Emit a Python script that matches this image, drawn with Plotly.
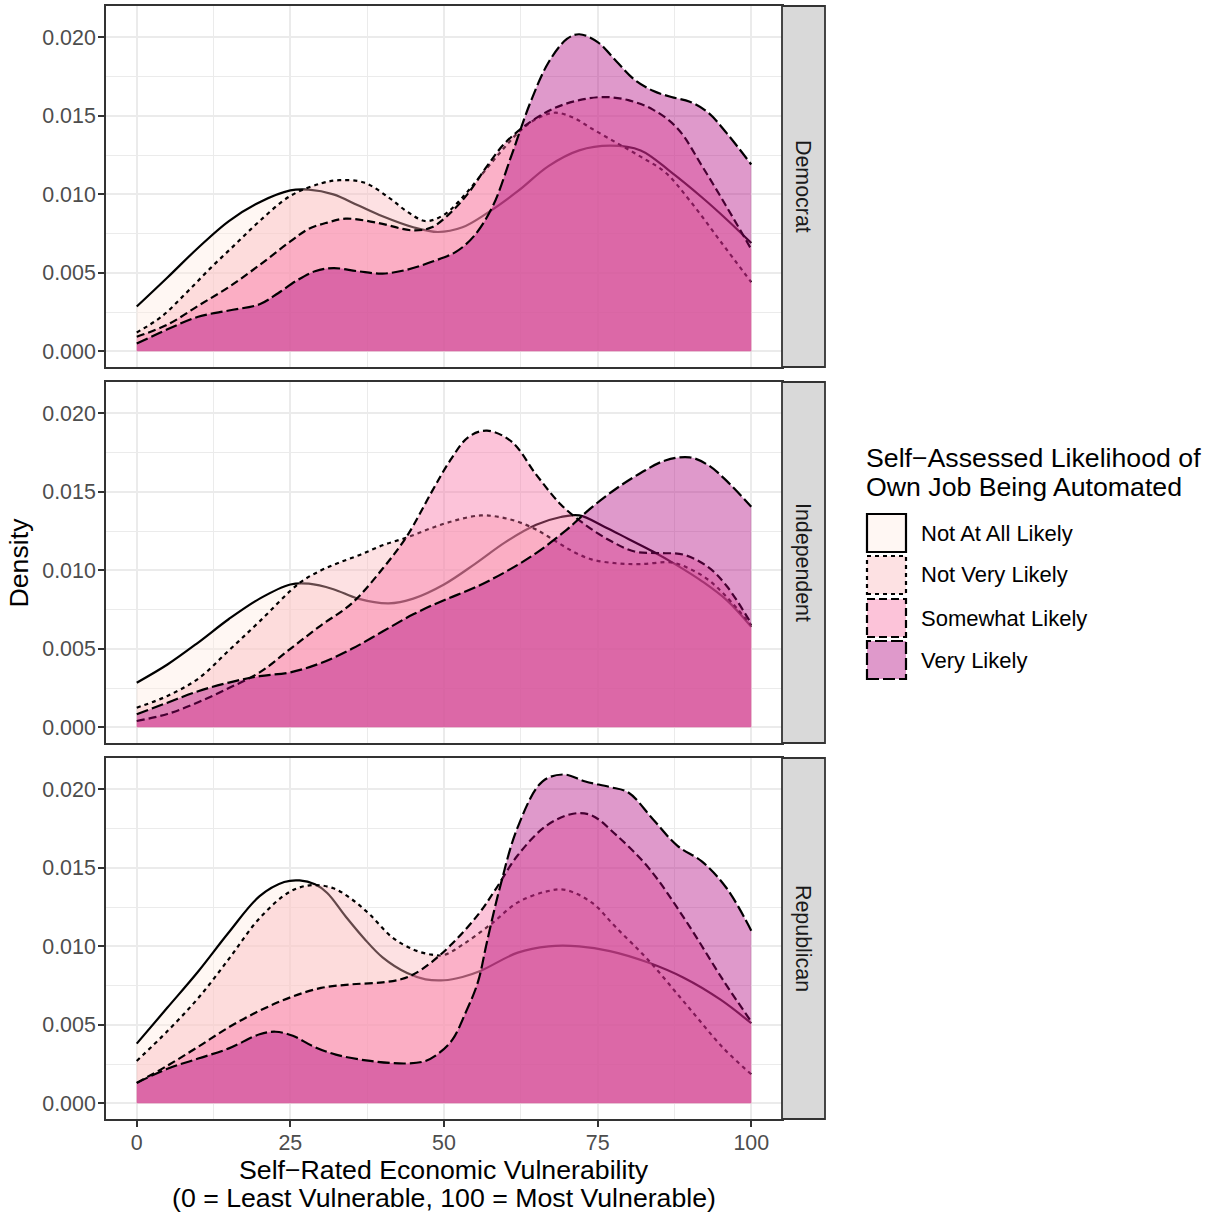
import plotly.graph_objects as go
from plotly.subplots import make_subplots

W, H = 1215, 1218
FONT = "Liberation Sans, Arial, Helvetica, sans-serif"

PARTIES = ["Democrat", "Independent", "Republican"]
LIKELIHOOD = ["Not At All Likely", "Not Very Likely", "Somewhat Likely", "Very Likely"]
FILL_COLORS = ["#FEEBE2", "#FBB4B9", "#F768A1", "#AE017E"]
LINE_DASH = ["solid", "4px,4px", "8px,4px", "12px,4px"]
X_TICKS = [0, 25, 50, 75, 100]
Y_TICKS = [0.0, 0.005, 0.010, 0.015, 0.020]

# ---------------- Democrat ----------------
DEM_NOT_AT_ALL_X = [0, 5, 10, 15, 20, 25, 28, 32, 36, 40, 45, 49, 53, 57, 62, 67, 72, 77, 82, 87, 92, 96, 100]
DEM_NOT_AT_ALL_Y = [0.00285, 0.0047, 0.0066, 0.0083, 0.0095, 0.01025, 0.0103, 0.0100, 0.0093, 0.0086, 0.0079,
                    0.0076, 0.0079, 0.0088, 0.0102, 0.0118, 0.0128, 0.0131, 0.0128, 0.0114, 0.0098, 0.0084, 0.0069]
DEM_NOT_VERY_X = [0, 4, 8, 12, 16, 20, 25, 30, 33, 37, 41, 44, 47, 50, 53, 56, 59, 62, 65, 68, 71, 74, 78, 82,
                  86, 90, 95, 100]
DEM_NOT_VERY_Y = [0.0012, 0.0022, 0.0037, 0.0053, 0.0068, 0.0083, 0.0099, 0.0107, 0.0109, 0.01075, 0.0098, 0.0089,
                  0.0083, 0.0087, 0.0098, 0.0112, 0.0126, 0.0139, 0.0148, 0.0152, 0.0149, 0.0142, 0.0133, 0.0124,
                  0.0114, 0.0096, 0.0070, 0.0044]
DEM_SOMEWHAT_X = [0, 5, 10, 15, 20, 25, 28, 31, 34, 39, 45, 48, 51, 54, 57, 60, 64, 68, 72, 76, 80, 84, 88, 92, 96,
                  100]
DEM_SOMEWHAT_Y = [0.00093, 0.0017, 0.0029, 0.0041, 0.0055, 0.0070, 0.0078, 0.0082, 0.00845, 0.0082, 0.0077, 0.0079,
                  0.0088, 0.0101, 0.0118, 0.0133, 0.0146, 0.0155, 0.0160, 0.0162, 0.0160, 0.0154, 0.0142, 0.0118,
                  0.0092, 0.0065]
DEM_VERY_X = [0, 5, 10, 15, 20, 23, 26, 29, 32, 36, 40, 44, 48, 52, 55, 58, 61, 64, 67, 70, 72, 75, 78, 81, 84, 87,
              90, 93, 96, 100]
DEM_VERY_Y = [0.00049, 0.0014, 0.0022, 0.0026, 0.0030, 0.0037, 0.0045, 0.0051, 0.0053, 0.0051, 0.00495, 0.0052,
              0.0057, 0.00635, 0.0074, 0.0093, 0.0125, 0.0158, 0.0184, 0.0199, 0.0202, 0.0197, 0.0185, 0.0173,
              0.0166, 0.0162, 0.0159, 0.0152, 0.0139, 0.0119]

# ---------------- Independent ----------------
IND_NOT_AT_ALL_X = [0, 5, 10, 15, 20, 25, 28, 32, 36, 41, 45, 50, 55, 60, 65, 69, 72, 76, 80, 84, 88, 92, 96, 100]
IND_NOT_AT_ALL_Y = [0.00284, 0.0040, 0.0054, 0.0069, 0.0082, 0.0091, 0.00915, 0.0088, 0.0082, 0.0079, 0.0082,
                    0.0091, 0.0104, 0.0118, 0.0129, 0.0134, 0.0135, 0.0128, 0.0120, 0.0112, 0.0103, 0.0093, 0.0081,
                    0.0064]
IND_NOT_VERY_X = [0, 5, 10, 15, 20, 26.5, 30, 33, 36.4, 40, 44, 48, 52, 56, 59, 62, 65, 68, 71, 74, 78, 82, 87, 90,
                  93, 96, 100]
IND_NOT_VERY_Y = [0.00125, 0.0020, 0.0031, 0.0049, 0.00675, 0.0092, 0.0100, 0.0105, 0.0110, 0.0116, 0.0121, 0.0127,
                  0.0132, 0.0135, 0.0134, 0.0131, 0.0126, 0.0119, 0.0112, 0.0107, 0.01045, 0.0104, 0.0105, 0.0101,
                  0.0094, 0.0083, 0.0065]
IND_SOMEWHAT_X = [0, 5, 10, 15, 20, 25, 30, 35, 40, 44, 48, 51, 54, 57, 61, 65, 69, 73, 77, 81, 85, 89, 93, 96, 100]
IND_SOMEWHAT_Y = [0.0004, 0.00085, 0.0016, 0.0025, 0.0035, 0.0050, 0.0065, 0.0079, 0.0101, 0.0122, 0.0150, 0.0170,
                  0.0185, 0.0189, 0.0182, 0.0161, 0.0142, 0.0129, 0.0119, 0.0112, 0.0111, 0.0110, 0.0102, 0.0090,
                  0.0066]
IND_VERY_X = [0, 5, 10, 15, 20, 25, 30, 35, 40, 45, 50, 55, 60, 65, 70, 74, 78, 82, 86, 90, 93, 96, 100]
IND_VERY_Y = [0.00083, 0.00157, 0.0023, 0.00285, 0.00326, 0.0035, 0.0041, 0.0050, 0.0061, 0.0072, 0.0081, 0.0089,
              0.0099, 0.0111, 0.0126, 0.0140, 0.0152, 0.0162, 0.0170, 0.0172, 0.0167, 0.0157, 0.01405]

# ---------------- Republican ----------------
REP_NOT_AT_ALL_X = [0, 5, 10, 15, 20, 24, 26.5, 29, 31, 34, 37, 40, 44, 47, 50, 53, 56, 62, 67, 72, 77, 83, 89, 95,
                    100]
REP_NOT_AT_ALL_Y = [0.0038, 0.0061, 0.0084, 0.0109, 0.0132, 0.0141, 0.0142, 0.01395, 0.0134, 0.0119, 0.0105,
                    0.0093, 0.0083, 0.0079, 0.00784, 0.00805, 0.00845, 0.0096, 0.0100, 0.0100, 0.0097, 0.0090, 0.0080,
                    0.0066, 0.0051]
REP_NOT_VERY_X = [0, 5, 10, 15, 20, 25, 28.5, 32, 35, 38, 41.5, 45, 48, 50, 53, 57.6, 62, 66.7, 69.7, 74, 78, 83.3,
                  89.4, 95.5, 100]
REP_NOT_VERY_Y = [0.0027, 0.0046, 0.0067, 0.0092, 0.0118, 0.0135, 0.0139, 0.0137, 0.0130, 0.0120, 0.0106, 0.0098,
                  0.00947, 0.00945, 0.0101, 0.0114, 0.0128, 0.0135, 0.0136, 0.0128, 0.0112, 0.0091, 0.0063, 0.0035,
                  0.00185]
REP_SOMEWHAT_X = [0, 5, 10, 15, 20, 25, 30, 35, 40, 43, 45, 48, 51.4, 55.7, 58.5, 62, 66.7, 71, 74, 78, 83.3, 89.4,
                  95.5, 100]
REP_SOMEWHAT_Y = [0.0013, 0.0024, 0.0036, 0.00485, 0.0059, 0.00675, 0.00735, 0.00758, 0.0077, 0.0079, 0.0082, 0.0090,
                  0.0102, 0.0121, 0.0137, 0.0158, 0.0177, 0.01845, 0.01835, 0.0171, 0.0150, 0.0116, 0.0078, 0.0052]
REP_VERY_X = [0, 5, 10, 15, 20, 22.6, 25.4, 28.6, 32.4, 38, 44, 47, 49.2, 51.4, 53.5, 55.5, 57, 59, 62, 66, 69.5,
              73, 77, 80, 84, 88, 92, 96, 100]
REP_VERY_Y = [0.0013, 0.0022, 0.00285, 0.0035, 0.0044, 0.00456, 0.0043, 0.00365, 0.0031, 0.0027, 0.00254, 0.0027,
              0.0032, 0.00407, 0.00576, 0.0077, 0.0103, 0.0136, 0.0176, 0.0205, 0.02095, 0.0205, 0.02015, 0.0198,
              0.0181, 0.0164, 0.0154, 0.0137, 0.0110]

SERIES = {
    "Democrat": [(DEM_NOT_AT_ALL_X, DEM_NOT_AT_ALL_Y), (DEM_NOT_VERY_X, DEM_NOT_VERY_Y),
                 (DEM_SOMEWHAT_X, DEM_SOMEWHAT_Y), (DEM_VERY_X, DEM_VERY_Y)],
    "Independent": [(IND_NOT_AT_ALL_X, IND_NOT_AT_ALL_Y), (IND_NOT_VERY_X, IND_NOT_VERY_Y),
                    (IND_SOMEWHAT_X, IND_SOMEWHAT_Y), (IND_VERY_X, IND_VERY_Y)],
    "Republican": [(REP_NOT_AT_ALL_X, REP_NOT_AT_ALL_Y), (REP_NOT_VERY_X, REP_NOT_VERY_Y),
                   (REP_SOMEWHAT_X, REP_SOMEWHAT_Y), (REP_VERY_X, REP_VERY_Y)],
}

ALPHA = 0.4


def rgba(hex_color, a):
    h = hex_color.lstrip("#")
    r, g, b = int(h[0:2], 16), int(h[2:4], 16), int(h[4:6], 16)
    return f"rgba({r},{g},{b},{a})"


def px_x(p):
    return p / W


def px_y(p):
    return 1 - p / H


PANEL_LEFT, PANEL_RIGHT = 106, 782
STRIP_RIGHT = 825
PANEL_TOPS = [6, 382, 758]
PANEL_H = 361

fig = make_subplots(rows=3, cols=1)

for r, party in enumerate(PARTIES, start=1):
    for i, lvl in enumerate(LIKELIHOOD):
        xs, ys = SERIES[party][i]
        fig.add_trace(
            go.Scatter(
                x=xs, y=ys, mode="lines", name=lvl, showlegend=False,
                line=dict(shape="spline", smoothing=1.0, color="black", width=2.2, dash=LINE_DASH[i]),
                fill="tozeroy", fillcolor=rgba(FILL_COLORS[i], ALPHA),
                hoverinfo="skip",
            ),
            row=r, col=1,
        )

GRID = "#EBEBEB"
BORDER = "#333333"
layout_axes = {}
for r in range(1, 4):
    top = PANEL_TOPS[r - 1]
    bottom = top + PANEL_H
    xa = "xaxis" if r == 1 else f"xaxis{r}"
    ya = "yaxis" if r == 1 else f"yaxis{r}"
    layout_axes[xa] = dict(
        domain=[px_x(PANEL_LEFT), px_x(PANEL_RIGHT)],
        range=[-5, 105], tickmode="array", tickvals=X_TICKS,
        showgrid=True, gridcolor=GRID, gridwidth=1.8,
        minor=dict(tickmode="array", tickvals=[12.5, 37.5, 62.5, 87.5], showgrid=True,
                   gridcolor=GRID, gridwidth=0.9, ticks=""),
        showline=True, mirror=True, linecolor=BORDER, linewidth=1.8, zeroline=False,
        ticks="outside" if r == 3 else "", ticklen=6, tickwidth=1.8, tickcolor=BORDER,
        showticklabels=(r == 3), ticklabelstandoff=-3,
        tickfont=dict(family=FONT, size=21.4, color="#4D4D4D"),
    )
    layout_axes[ya] = dict(
        domain=[px_y(bottom), px_y(top)],
        range=[-0.001, 0.022], tickmode="array", tickvals=Y_TICKS, tickformat=".3f",
        showgrid=True, gridcolor=GRID, gridwidth=1.8,
        minor=dict(tickmode="array", tickvals=[0.0025, 0.0075, 0.0125, 0.0175], showgrid=True,
                   gridcolor=GRID, gridwidth=0.9, ticks=""),
        showline=True, mirror=True, linecolor=BORDER, linewidth=1.8, zeroline=False,
        ticks="outside", ticklen=6, tickwidth=1.8, tickcolor=BORDER, ticklabelstandoff=-2,
        tickfont=dict(family=FONT, size=21.4, color="#4D4D4D"),
    )

shapes = []
annotations = []

# facet strips
for r, party in enumerate(PARTIES):
    top = PANEL_TOPS[r]
    bottom = top + PANEL_H
    shapes.append(dict(type="rect", xref="paper", yref="paper",
                       x0=px_x(PANEL_RIGHT), x1=px_x(STRIP_RIGHT), y0=px_y(bottom), y1=px_y(top),
                       fillcolor="#D9D9D9", line=dict(color=BORDER, width=1.8), layer="above"))
    annotations.append(dict(text=party, xref="paper", yref="paper",
                            x=px_x((PANEL_RIGHT + STRIP_RIGHT) / 2), y=px_y((top + bottom) / 2),
                            showarrow=False, textangle=90, xanchor="center", yanchor="middle",
                            font=dict(family=FONT, size=21.4, color="#1A1A1A")))

# axis titles
annotations.append(dict(text="Self\u2212Rated Economic Vulnerability", xref="paper", yref="paper",
                        x=px_x((PANEL_LEFT + PANEL_RIGHT) / 2), y=px_y(1170), showarrow=False,
                        xanchor="center", yanchor="middle", font=dict(family=FONT, size=26.7, color="black")))
annotations.append(dict(text="(0 = Least Vulnerable, 100 = Most Vulnerable)", xref="paper", yref="paper",
                        x=px_x((PANEL_LEFT + PANEL_RIGHT) / 2), y=px_y(1198), showarrow=False,
                        xanchor="center", yanchor="middle", font=dict(family=FONT, size=26.7, color="black")))
annotations.append(dict(text="Density", xref="paper", yref="paper",
                        x=px_x(18), y=px_y(562.5), showarrow=False, textangle=-90,
                        xanchor="center", yanchor="middle", font=dict(family=FONT, size=26.7, color="black")))

# legend (manual, ggplot-style keys)
annotations.append(dict(text="Self\u2212Assessed Likelihood of", xref="paper", yref="paper",
                        x=px_x(864), y=px_y(458), showarrow=False, xanchor="left", yanchor="middle",
                        font=dict(family=FONT, size=26.7, color="black")))
annotations.append(dict(text="Own Job Being Automated", xref="paper", yref="paper",
                        x=px_x(864), y=px_y(487), showarrow=False, xanchor="left", yanchor="middle",
                        font=dict(family=FONT, size=26.7, color="black")))
KEY_TOPS = [514, 556, 599, 641]
for i, lvl in enumerate(LIKELIHOOD):
    t = KEY_TOPS[i]
    shapes.append(dict(type="rect", xref="paper", yref="paper",
                       x0=px_x(867), x1=px_x(906), y0=px_y(t + 38), y1=px_y(t),
                       fillcolor=rgba(FILL_COLORS[i], ALPHA),
                       line=dict(color="black", width=2.2, dash=LINE_DASH[i])))
    annotations.append(dict(text=lvl, xref="paper", yref="paper",
                            x=px_x(919), y=px_y(t + 19), showarrow=False, xanchor="left", yanchor="middle",
                            font=dict(family=FONT, size=22, color="black")))

fig.update_layout(
    width=W, height=H,
    margin=dict(l=0, r=0, t=0, b=0),
    paper_bgcolor="white", plot_bgcolor="white",
    showlegend=False,
    shapes=shapes, annotations=annotations,
    font=dict(family=FONT),
    **layout_axes,
)

# remove the default 8px page margin so the figure sits in the window's corner
fig.write_html(
    "out.html",
    config={"displayModeBar": False},
    post_script="document.body.style.margin='0px';document.body.style.padding='0px';"
                "document.body.style.overflow='hidden';",
)
